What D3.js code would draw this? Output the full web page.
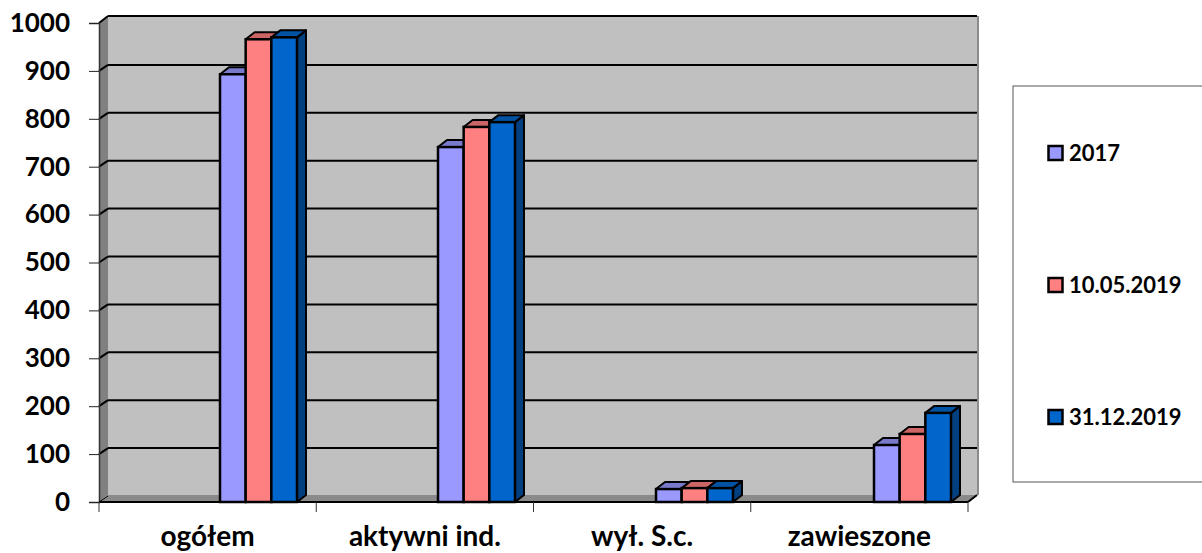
<!DOCTYPE html>
<html>
<head>
<meta charset="utf-8">
<script src="https://cdn.jsdelivr.net/npm/d3@7"></script>
<style>
  body { margin: 0; background: #fff; }
  svg { display: block; }
  text { font-family: Lato, "Open Sans", sans-serif; font-weight: 700; fill: #000; }
</style>
</head>
<body>
<svg></svg>
<script>
const categories = ["ogółem", "aktywni ind.", "wył. S.c.", "zawieszone"];
const seriesNames = ["2017", "10.05.2019", "31.12.2019"];
const series2017 = [893, 741, 27, 119];
const series2019a = [966, 783, 29, 142];
const series2019b = [970, 793, 29, 186];
const yTicks = [0, 100, 200, 300, 400, 500, 600, 700, 800, 900, 1000];

const seriesValues = [series2017, series2019a, series2019b];
const colors = ["#9999ff", "#ff8080", "#0066cc"];
const topColors = ["#7a7acc", "#cc6666", "#0052a3"];
const sideColors = ["#5c5c99", "#994d4d", "#003f80"];

const width = 1202;
const height = 553;
const marginLeft = 99;
const plotRight = 968;
const plotTop = 23;
const plotBottom = 502;
// depth of the fake 3d box
const dx = 9;
const dy = -7;

const svg = d3.select("svg").attr("width", width).attr("height", height);

const x = d3.scaleBand(categories, [marginLeft, plotRight]);
// the bar groups are spaced a touch wider than the axis ticks
const xBars = d3.scaleBand(categories, [marginLeft, plotRight + 3]);
const xSeries = d3.scaleBand(d3.range(3), [121, 198]);
const y = d3.scaleLinear([0, 1000], [plotBottom, plotTop]);

const poly = (pts) => pts.map((p) => p.join(",")).join(" ");

// back wall
svg.append("rect")
  .attr("x", marginLeft + dx).attr("y", y(1000) + dy)
  .attr("width", plotRight - marginLeft)
  .attr("height", y(0) - y(1000))
  .attr("fill", "#c0c0c0");

// left wall
svg.append("polygon")
  .attr("points", poly([
    [marginLeft, y(1000)], [marginLeft + dx, y(1000) + dy],
    [marginLeft + dx, y(0) + dy], [marginLeft, y(0)],
  ]))
  .attr("fill", "#808080");

// floor
svg.append("polygon")
  .attr("points", poly([
    [marginLeft, y(0)], [marginLeft + dx, y(0) + dy],
    [plotRight + dx, y(0) + dy], [plotRight, y(0)],
  ]))
  .attr("fill", "#8a8a8a");

// gridlines, back wall plus the slanted bit on the left wall
yTicks.forEach((t) => {
  const back = y(t) + (t === 1000 ? dy : dy + 1);
  if (t > 0) {
    svg.append("line")
      .attr("x1", marginLeft + dx).attr("x2", plotRight + dx)
      .attr("y1", back).attr("y2", back)
      .attr("stroke", "#000").attr("stroke-width", 2);
  }
  svg.append("line")
    .attr("x1", marginLeft).attr("x2", marginLeft + dx)
    .attr("y1", y(t)).attr("y2", back)
    .attr("stroke", "#000").attr("stroke-width", t === 0 ? 1 : 2);
});

// right and floor edges of the box
svg.append("line")
  .attr("x1", plotRight + dx + 1).attr("x2", plotRight + dx + 1)
  .attr("y1", y(1000) + dy).attr("y2", y(0) + dy)
  .attr("stroke", "#8c8c8c").attr("stroke-width", 2);
svg.append("line")
  .attr("x1", plotRight).attr("x2", plotRight + dx)
  .attr("y1", y(0)).attr("y2", y(0) + dy)
  .attr("stroke", "#000").attr("stroke-width", 2);

// front axes
svg.append("g")
  .attr("transform", `translate(${marginLeft},0)`)
  .call(d3.axisLeft(y).tickValues(yTicks).tickFormat(d3.format("d")).tickSize(10).tickPadding(19))
  .call((g) => g.select(".domain").attr("stroke", "#333").attr("stroke-width", 1.5))
  .call((g) => g.selectAll(".tick line").attr("stroke", "#222").attr("stroke-width", 1))
  .call((g) => g.selectAll("text").style("font-size", "26px"));

svg.append("line")
  .attr("x1", marginLeft).attr("x2", plotRight)
  .attr("y1", y(0)).attr("y2", y(0))
  .attr("stroke", "#000").attr("stroke-width", 2);

// category ticks sit between the groups
const tickPositions = categories.map((c) => x(c)).concat(plotRight);
svg.selectAll(".cat-tick")
  .data(tickPositions)
  .join("line")
  .attr("class", "cat-tick")
  .attr("x1", (d) => d).attr("x2", (d) => d)
  .attr("y1", y(0)).attr("y2", y(0) + 10)
  .attr("stroke", "#333").attr("stroke-width", 1);

svg.selectAll(".cat-label")
  .data(categories)
  .join("text")
  .attr("class", "cat-label")
  .attr("x", (d) => x(d) + x.bandwidth() / 2)
  .attr("y", 546)
  .attr("text-anchor", "middle")
  .style("font-size", "28px")
  .text((d) => d);

// bars, series after series so each one overlaps the side of the one before
seriesValues.forEach((values, s) => {
  const g = svg.append("g");
  categories.forEach((c, i) => {
    const x0 = xBars(c) + xSeries(s);
    const x1 = x0 + xSeries.bandwidth();
    const top = y(values[i]);
    g.append("polygon")
      .attr("points", poly([[x1, top], [x1 + dx, top + dy], [x1 + dx, y(0) + dy], [x1, y(0)]]))
      .attr("fill", sideColors[s]).attr("stroke", "#000").attr("stroke-width", 2)
      .attr("stroke-linejoin", "round");
    g.append("polygon")
      .attr("points", poly([[x0, top], [x0 + dx, top + dy], [x1 + dx, top + dy], [x1, top]]))
      .attr("fill", topColors[s]).attr("stroke", "#000").attr("stroke-width", 2)
      .attr("stroke-linejoin", "round");
    g.append("rect")
      .attr("x", x0).attr("y", top)
      .attr("width", xSeries.bandwidth()).attr("height", y(0) - top)
      .attr("fill", colors[s]).attr("stroke", "#000").attr("stroke-width", 2.5);
  });
});

// legend, its box runs off the right side of the picture
svg.append("rect")
  .attr("x", 1013).attr("y", 86)
  .attr("width", 220).attr("height", 396)
  .attr("fill", "#fff").attr("stroke", "#555").attr("stroke-width", 1);

const legendY = d3.scalePoint(seriesNames, [153, 417]);
const legend = svg.selectAll(".legend-item")
  .data(seriesNames)
  .join("g")
  .attr("class", "legend-item")
  .attr("transform", (d) => `translate(1048,${legendY(d)})`);
legend.append("rect")
  .attr("x", 0.5).attr("y", -7).attr("width", 14).attr("height", 14)
  .attr("fill", (d, i) => colors[i]).attr("stroke", "#000").attr("stroke-width", 2.5);
legend.append("text")
  .attr("x", 21).attr("y", 8)
  .style("font-size", "22px")
  .text((d) => d);
</script>
</body>
</html>
